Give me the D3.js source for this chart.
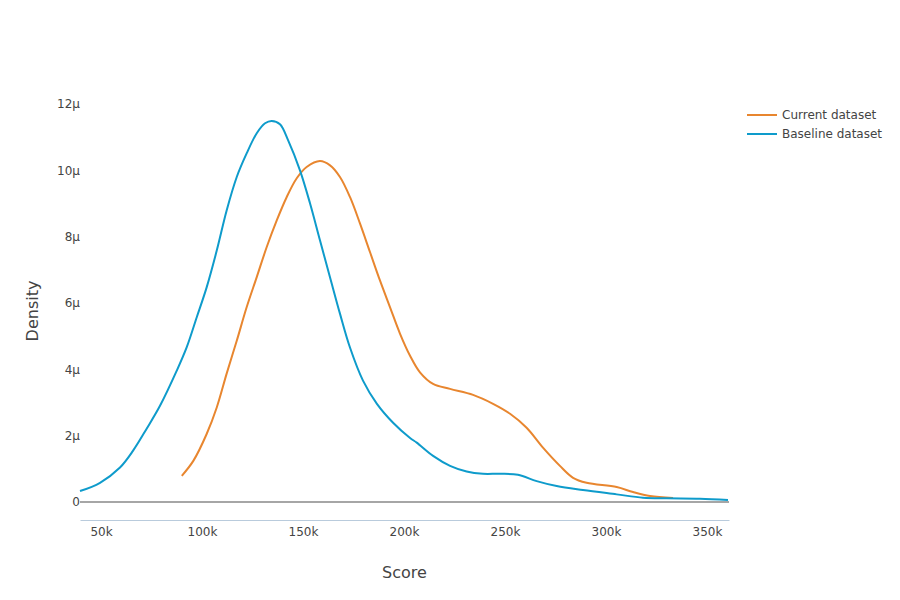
<!DOCTYPE html>
<html lang="en">
<head>
<meta charset="utf-8">
<title>Score density</title>
<script src="https://d3js.org/d3.v7.min.js"></script>
<style>
  body { margin: 0; background: #fff; }
  text { font-family: "DejaVu Sans", sans-serif; fill: #444; }
</style>
</head>
<body>
<div id="chart"></div>
<script>
// scores in thousands, densities in micro-units
const currentX = [90.0, 95.7, 102.3, 107.3, 112.2, 117.2, 122.1, 127.1, 132.0, 137.0, 141.9, 146.9, 151.8, 158.4, 163.4, 168.3, 173.3, 178.2, 183.2, 188.1, 193.1, 198.0, 203.0, 207.9, 214.4, 222.8, 234.2, 244.1, 252.5, 260.7, 268.8, 277.2, 283.7, 290.4, 305.3, 313.4, 321.8, 333.2];
const currentY = [0.79, 1.24, 2.05, 2.85, 3.87, 4.86, 5.87, 6.78, 7.68, 8.49, 9.19, 9.76, 10.10, 10.28, 10.15, 9.80, 9.19, 8.40, 7.53, 6.68, 5.87, 5.08, 4.41, 3.91, 3.56, 3.41, 3.23, 2.96, 2.66, 2.24, 1.64, 1.09, 0.73, 0.58, 0.45, 0.30, 0.18, 0.12];

const baselineX = [39.6, 49.5, 59.4, 65.8, 72.6, 79.2, 87.5, 92.4, 97.4, 102.3, 107.3, 112.2, 117.2, 122.1, 127.1, 131.2, 134.5, 138.6, 142.6, 148.5, 153.5, 158.4, 163.4, 168.3, 173.3, 179.7, 186.6, 194.6, 203.0, 206.3, 214.4, 222.8, 231.0, 239.1, 247.5, 256.4, 265.7, 275.6, 288.6, 305.3, 318.3, 330.0, 346.5, 360.4];
const baselineY = [0.33, 0.58, 1.04, 1.54, 2.21, 2.90, 3.96, 4.66, 5.57, 6.47, 7.58, 8.79, 9.80, 10.51, 11.12, 11.42, 11.49, 11.39, 10.91, 10.0, 9.0, 7.89, 6.77, 5.68, 4.65, 3.66, 2.96, 2.39, 1.93, 1.79, 1.39, 1.09, 0.92, 0.85, 0.85, 0.82, 0.63, 0.48, 0.36, 0.23, 0.13, 0.11, 0.10, 0.06];

const seriesNames = ["Current dataset", "Baseline dataset"];
const seriesColors = ["#e8862f", "#0e9bcb"];
const xTicks = [50, 100, 150, 200, 250, 300, 350];
const yTicks = [0, 2, 4, 6, 8, 10, 12];

const width = 900, height = 600;
const margin = {top: 104, right: 171, bottom: 98, left: 80};

const svg = d3.select("#chart").append("svg")
    .attr("width", width)
    .attr("height", height);

const x = d3.scaleLinear()
    .domain([39.6, 360.9])
    .range([margin.left, width - margin.right]);
const y = d3.scaleLinear()
    .domain([0, 12])
    .range([height - margin.bottom, margin.top]);

// x axis (sits below the plot)
const xAxis = svg.append("g")
    .attr("transform", `translate(0,520)`)
    .call(d3.axisBottom(x).tickValues(xTicks).tickSize(0).tickFormat(d => d + "k"));
xAxis.select(".domain").attr("stroke", "#b9cbdc");
xAxis.selectAll("text").attr("dy", "1.1em").style("font-size", "12px").attr("fill", "#444");

// y axis labels only
const yAxis = svg.append("g")
    .attr("transform", `translate(${margin.left},0)`)
    .call(d3.axisLeft(y).tickValues(yTicks).tickSize(0).tickFormat(d => d === 0 ? "0" : d + "µ"));
yAxis.select(".domain").remove();
yAxis.selectAll("text").attr("x", 0).attr("dy", "0.33em").style("font-size", "12px").attr("fill", "#444");

// zero line
svg.append("line")
    .attr("x1", margin.left).attr("x2", width - margin.right)
    .attr("y1", y(0)).attr("y2", y(0))
    .attr("stroke", "#888").attr("stroke-width", 1.6);

const line = d3.line()
    .x(d => x(d[0]))
    .y(d => y(d[1]))
    .curve(d3.curveCatmullRom.alpha(0.5));

const series = [
  d3.zip(currentX, currentY),
  d3.zip(baselineX, baselineY)
];

svg.append("g").selectAll("path")
  .data(series)
  .join("path")
    .attr("fill", "none")
    .attr("stroke", (d, i) => seriesColors[i])
    .attr("stroke-width", 2)
    .attr("d", line);

// axis titles
svg.append("text")
    .attr("x", (margin.left + width - margin.right) / 2)
    .attr("y", 578)
    .attr("text-anchor", "middle")
    .style("font-size", "16px")
    .text("Score");

svg.append("text")
    .attr("transform", `translate(38,${(margin.top + height - margin.bottom) / 2 + 8}) rotate(-90)`)
    .attr("text-anchor", "middle")
    .style("font-size", "16px")
    .text("Density");

// legend
const legend = svg.append("g")
    .attr("transform", "translate(747,115)")
  .selectAll("g")
  .data(seriesNames)
  .join("g")
    .attr("transform", (d, i) => `translate(0,${i * 19})`);

legend.append("line")
    .attr("x1", 0).attr("x2", 30)
    .attr("stroke", (d, i) => seriesColors[i])
    .attr("stroke-width", 2);

legend.append("text")
    .attr("x", 35)
    .attr("dy", "0.35em")
    .style("font-size", "12px")
    .text(d => d);
</script>
</body>
</html>
